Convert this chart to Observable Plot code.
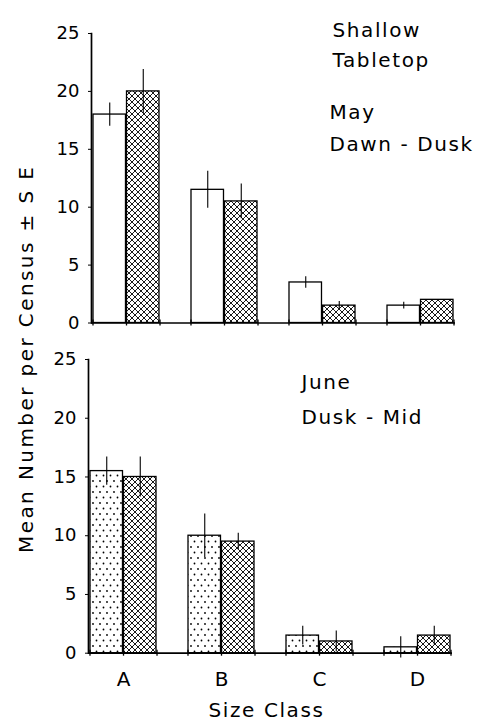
<!DOCTYPE html>
<html><head><meta charset="utf-8">
<script src="https://cdn.jsdelivr.net/npm/d3@7"></script>
<script src="https://cdn.jsdelivr.net/npm/@observablehq/plot@0.6"></script>
<style>
html,body{margin:0;padding:0;background:#fff;}
#chart{position:relative;width:482px;height:725px;overflow:hidden;background:#fff;}
#chart svg{position:absolute;left:0;}
</style></head><body><div id="chart"></div>
<svg width="0" height="0" style="position:absolute">
  <defs>
    <pattern id="xhatch" patternUnits="userSpaceOnUse" width="6" height="6">
      <rect width="6" height="6" fill="white"/>
      <path d="M0,0L6,6M6,0L0,6M-1,5L1,7M5,-1L7,1M-1,1L1,-1M5,7L7,5" stroke="black" stroke-width="0.9" fill="none"/>
    </pattern>
    <pattern id="dots" patternUnits="userSpaceOnUse" width="7" height="11">
      <rect width="7" height="11" fill="white"/>
      <circle cx="2" cy="3" r="0.9" fill="black"/>
      <circle cx="5.5" cy="8.5" r="0.9" fill="black"/>
    </pattern>
  </defs>
</svg>
<script>
const sizeClasses = ["A", "B", "C", "D"];
const mayOpen = [18, 11.5, 3.5, 1.5];
const mayOpenSE = [1.0, 1.6, 0.5, 0.3];
const mayHatched = [20, 10.5, 1.5, 2.0];
const mayHatchedSE = [1.9, 1.5, 0.35, 0];
const juneDotted = [15.5, 10.0, 1.5, 0.5];
const juneDottedSE = [1.2, 1.85, 0.8, 0.9];
const juneHatched = [15.0, 9.5, 1.0, 1.5];
const juneHatchedSE = [1.7, 0.7, 0.9, 0.8];
const yTicks = [0, 5, 10, 15, 20, 25];
const yLabel = "Mean Number per Census \u00B1 S E";
const xLabel = "Size Class";
const mayNotes1 = "Shallow\nTabletop";
const mayNotes2 = "May\nDawn - Dusk";
const juneNotes = "June\nDusk - Mid";

function rows(vals, se) {
  return sizeClasses.map((c, i) => ({cls: c, v: vals[i], lo: vals[i] - se[i], hi: vals[i] + se[i], se: se[i]}));
}

const FONT = "DejaVu Sans";
const PAD_INNER = 0.323;

function panel({leftVals, leftSE, leftFill, rightVals, rightSE, rightFill, height, mT, mB, mL, mR, showX, notes}) {
  const width = 482;
  const bw = d3.scaleBand().domain(sizeClasses).range([mL, width - mR]).paddingInner(PAD_INNER).paddingOuter(0).bandwidth();
  const half = bw / 2, q = bw / 4;
  const L = rows(leftVals, leftSE), R = rows(rightVals, rightSE);
  const marks = [
    Plot.barY(L, {x: "cls", y: "v", fill: leftFill, stroke: "black", strokeWidth: 1.3, insetRight: half}),
    Plot.barY(R, {x: "cls", y: "v", fill: rightFill, stroke: "black", strokeWidth: 1.3, insetLeft: half}),
    Plot.ruleX(L.filter(d => d.se > 0), {x: "cls", y1: "lo", y2: "hi", dx: -q, strokeWidth: 1.1}),
    Plot.ruleX(R.filter(d => d.se > 0), {x: "cls", y1: "lo", y2: "hi", dx: q, strokeWidth: 1.1}),
    Plot.ruleY([0], {strokeWidth: 1.7}),
    Plot.frame({anchor: "left", strokeWidth: 1.7}),
    ...[-half, 0, half].map(dx => Plot.ruleX(sizeClasses, {x: d => d, y1: 0, y2: 0, dx, insetTop: -3, insetBottom: -3, strokeWidth: 1.3})),
    Plot.axisY(yTicks, {tickSize: 3, tickPadding: 9, fontSize: 18, label: null}),
    ...notes.map(n => Plot.text([n.text], {frameAnchor: "top-left", textAnchor: "start", lineAnchor: "top", dx: n.dx, dy: n.dy, fontSize: 20, lineHeight: n.lh}))
  ];
  if (showX) {
    marks.push(Plot.axisX({tickSize: 0, tickPadding: 19, fontSize: 20, label: null}));
    marks.push(Plot.text([xLabel], {frameAnchor: "bottom", dx: -4, dy: 64, fontSize: 20}));
  }
  const svg = Plot.plot({
    width, height,
    marginTop: mT, marginBottom: mB, marginLeft: mL, marginRight: mR,
    style: {fontFamily: FONT, fontSize: "18px", background: "transparent", color: "black", overflow: "visible"},
    x: {domain: sizeClasses, paddingInner: PAD_INNER, paddingOuter: 0, axis: showX ? undefined : null},
    y: {domain: [0, 25], label: null},
    marks
  });
  svg.querySelectorAll('g[aria-label="text"]').forEach(g => g.style.letterSpacing = "1.6px");
  return svg;
}

const chart = document.getElementById("chart");

const top1 = panel({
  leftVals: mayOpen, leftSE: mayOpenSE, leftFill: "white",
  rightVals: mayHatched, rightSE: mayHatchedSE, rightFill: "url(#xhatch)",
  height: 335, mT: 33, mB: 12.5, mL: 91, mR: 27, showX: false,
  notes: [{text: mayNotes1, dx: 241, dy: -18, lh: 1.5}, {text: mayNotes2, dx: 238, dy: 63, lh: 1.6}]
});
top1.style.top = "0px";
chart.appendChild(top1);

const bottom = panel({
  leftVals: juneDotted, leftSE: juneDottedSE, leftFill: "url(#dots)",
  rightVals: juneHatched, rightSE: juneHatchedSE, rightFill: "url(#xhatch)",
  height: 390, mT: 24, mB: 72.3, mL: 88, mR: 30, showX: true,
  notes: [{text: juneNotes, dx: 213, dy: 5, lh: 1.75}]
});
bottom.style.top = "335px";
chart.appendChild(bottom);

// shared y-axis title spanning both panels
const ns = "http://www.w3.org/2000/svg";
const lab = document.createElementNS(ns, "svg");
lab.setAttribute("width", 60); lab.setAttribute("height", 725);
lab.style.top = "0px";
const t = document.createElementNS(ns, "text");
t.setAttribute("transform", "translate(33,360) rotate(-90)");
t.setAttribute("text-anchor", "middle");
t.setAttribute("font-family", FONT);
t.setAttribute("font-size", 20);
t.setAttribute("textLength", 386);
t.setAttribute("lengthAdjust", "spacing");
t.textContent = yLabel;
lab.appendChild(t);
chart.appendChild(lab);
</script>
</body></html>
